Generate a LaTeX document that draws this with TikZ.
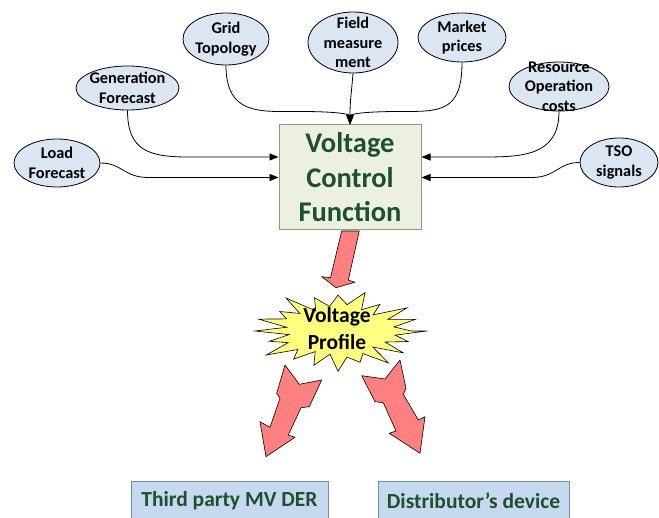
\documentclass[tikz,border=0pt]{standalone}
\usepackage{fontspec}
\setmainfont{Carlito}
\usetikzlibrary{shapes.geometric,arrows.meta,calc}
\definecolor{ellfill}{RGB}{220,230,242}
\definecolor{boxfill}{RGB}{235,241,222}
\definecolor{boxdraw}{RGB}{128,160,128}
\definecolor{dgreen}{RGB}{30,80,45}
\definecolor{bluefill}{RGB}{198,217,241}
\definecolor{bluedraw}{RGB}{120,140,160}
\definecolor{pinkfill}{RGB}{255,128,128}
\definecolor{burstfill}{RGB}{255,255,128}
\begin{document}
\begin{tikzpicture}[x=1pt,y=-1pt,
  ell/.style={ellipse, draw=black, line width=0.8pt, fill=ellfill, inner sep=0pt},
  ellt/.style={align=center, font=\fontsize{16.3}{19.5}\selectfont\bfseries, inner sep=0pt},
  conn/.style={draw=black, line width=0.8pt, -{Triangle[length=9pt,width=7pt]}},
  blockarrow/.style={draw=black, line width=0.6pt, fill=pinkfill, line join=round},
  burst/.style={draw=black, line width=0.6pt, fill=burstfill},
  vcfbox/.style={rectangle, draw=boxdraw, line width=1pt, fill=boxfill, minimum width=142, minimum height=105, align=center, text=dgreen, font=\fontsize{28.5}{34.5}\selectfont\bfseries},
  outbox/.style={rectangle, draw=bluedraw, line width=0.8pt, fill=bluefill, minimum height=40, text=dgreen, font=\fontsize{21.5}{24}\selectfont\bfseries}
]
\useasboundingbox (0,0) rectangle (659,518);

% input ellipses
\node[ell, minimum width=86, minimum height=48, label={[ellt]center:{Load\\Forecast}}] (load) at (57,163) {};
\node[ell, minimum width=103, minimum height=44, label={[ellt]center:{Generation\\Forecast}}] (gen) at (127.5,88) {};
\node[ell, minimum width=86, minimum height=52, label={[ellt]center:{Grid\\Topology}}] (grid) at (226,39) {};
\node[ell, minimum width=90, minimum height=61, label={[ellt]center:{Field\\measure\\ment}}] (field) at (353,42.5) {};
\node[ell, minimum width=88, minimum height=49, label={[ellt]center:{Market\\prices}}] (mkt) at (462,37.5) {};
\node[ell, minimum width=100, minimum height=49, label={[ellt]center:{Resource\\Operation\\costs}}] (res) at (559,86.5) {};
\node[ell, minimum width=78, minimum height=49, label={[ellt]center:{TSO\\signals}}] (tso) at (619,162.5) {};

% central box
\node[vcfbox] (vcf) at (350,177.5) {Voltage\\Control\\Function};

% connectors
\draw[conn] (load.east) .. controls +(22,0) and +(-25,0) .. ([xshift=-130pt]vcf.west) -- (vcf.west);
\draw[conn] (gen.south) .. controls +(0,40) and +(-40,0) .. ([xshift=-90pt,yshift=20.5pt]vcf.west) -- ([yshift=20.5pt]vcf.west);
\draw[conn] (grid.south) .. controls +(0,50) and +(-40,0) .. ([xshift=-50pt,yshift=13pt]vcf.north) .. controls +(40,0) and +(0,-10) .. (vcf.north);
\draw[conn] (field.south) .. controls +(-2,25) and +(0,-25) .. (vcf.north);
\draw[conn] (mkt.south) .. controls +(0,50) and +(40,0) .. ([xshift=50pt,yshift=13pt]vcf.north) .. controls +(-40,0) and +(0,-10) .. (vcf.north);
\draw[conn] (res.south) .. controls +(0,45) and +(40,0) .. ([xshift=60pt,yshift=20.5pt]vcf.east) -- ([yshift=20.5pt]vcf.east);
\draw[conn] (tso.west) .. controls +(-22,0) and +(25,0) .. ([xshift=110pt]vcf.east) -- (vcf.east);

% block arrows
\draw[blockarrow] (341.7,231) -- (359.3,231) -- (348.3,280) -- (355,282.3) -- (336,287.7) -- (321.7,276.7) -- (330.5,277.7) -- cycle;
\draw[blockarrow] (285,365) -- (299.3,384.3) -- (321.7,380) -- (309.3,406.7) -- (301,407.7) -- (288.3,435) -- (295,437.3) -- (266,456.7) -- (260,421.7) -- (270,427.3) -- (280,398.3) -- (276.7,393.3) -- cycle;
\draw[blockarrow] (400,360) -- (406,388.3) -- (403.3,394.3) -- (418.3,420) -- (425,416.7) -- (420,453.3) -- (389.3,433.3) -- (396,431) -- (383.3,402.7) -- (375,401.7) -- (361.7,375.7) -- (385,379) -- cycle;

% starburst
\coordinate (vpc) at (338,331);
\begin{scope}[shift={(vpc)}]
\draw[burst] (89,0) \foreach \i in {0,...,19} {
  -- ({89*(0.6+0.05*cos(\i*97))*cos((\i+0.5)*18)},{41*(0.6+0.05*cos(\i*97))*sin((\i+0.5)*18)})
  -- ({89*(0.9+0.1*cos((\i+1)*137))*cos((\i+1)*18)},{41*(0.9+0.1*cos((\i+1)*137))*sin((\i+1)*18)})
} -- cycle;
\end{scope}
\node[align=center, font=\fontsize{21.5}{27}\selectfont\bfseries, inner sep=0pt] (vp) at (337,328.5) {Voltage\\Profile};

% output boxes
\node[outbox, minimum width=197] (der) at (229.5,501) {Third party MV DER};
\node[outbox, minimum width=191] (dev) at (473.5,501) {Distributor’s device};
\end{tikzpicture}
\end{document}
